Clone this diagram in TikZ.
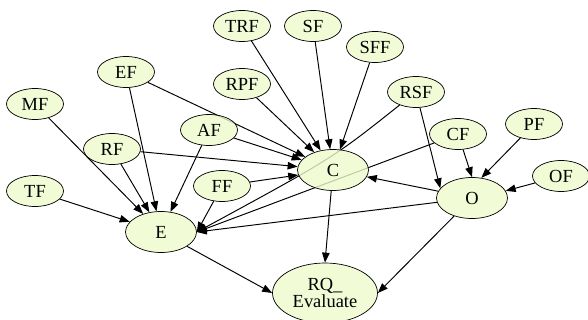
\documentclass[tikz,border=0pt]{standalone}
\usepackage{fontspec}
\setmainfont{Liberation Serif}
\usetikzlibrary{shapes.geometric, arrows.meta, backgrounds}

\definecolor{nodefill}{RGB}{238,250,204}

\tikzset{
  factor/.style={draw, ellipse, fill=nodefill, fill opacity=0.8, text opacity=1, inner sep=0pt,
    minimum width=1.14cm, minimum height=0.62cm, font=\fontsize{10.5}{11}\selectfont},
  core/.style={factor, minimum width=1.42cm, minimum height=0.82cm},
  link/.style={-{Triangle[length=0.2cm, width=0.15cm]}, line width=0.55pt}
}

\begin{document}
\begin{tikzpicture}[x=0.02cm, y=-0.02cm]
    \useasboundingbox (0,0) rectangle (588,320);

    % Factor nodes along the top
    \node[factor] (TRF) at (242,26) {TRF};
    \node[factor] (SF) at (313,26) {SF};
    \node[factor] (SFF) at (375,47) {SFF};
    \node[factor] (EF) at (126,72) {EF};
    \node[factor] (RPF) at (242,84) {RPF};
    \node[factor] (RSF) at (416,92) {RSF};
    \node[factor] (MF) at (35,104) {MF};

    % Factor nodes in the middle
    \node[factor] (CF) at (458,134) {CF};
    \node[factor] (PF) at (534,124) {PF};
    \node[factor] (AF) at (209,130) {AF};
    \node[factor] (RF) at (112,149) {RF};
    \node[factor] (FF) at (222,186) {FF};
    \node[factor] (OF) at (561,176) {OF};
    \node[factor] (TF) at (35,191) {TF};

    % Main nodes
    \node[core] (C) at (333,170) {C};
    \node[core] (O) at (472,198) {O};
    \node[core] (E) at (161,232) {E};
    \node[core, align=center, minimum width=2.1cm, minimum height=1.2cm] (RQ) at (325,293) {RQ\_\\[-1pt]Evaluate};

    \begin{pgfonlayer}{background}
      % Edges into C
      \draw[link] (TRF) -- (C);
      \draw[link] (SF) -- (C);
      \draw[link] (SFF) -- (C);
      \draw[link] (RPF) -- (C);
      \draw[link] (EF) -- (C);
      \draw[link] (AF) -- (C);
      \draw[link] (RF) -- (C);
      \draw[link] (FF) -- (C);
      \draw[link] (O) -- (C);

      % Edges into E
      \draw[link] (EF) -- (E);
      \draw[link] (MF) -- (E);
      \draw[link] (RF) -- (E);
      \draw[link] (AF) -- (E);
      \draw[link] (TF) -- (E);
      \draw[link] (FF) -- (E.east);
      \draw[link] (RSF) .. controls (333,158) .. (E.east);
      \draw[link] (CF) -- (E.east);
      \draw[link] (O) -- (E.east);

      % Edges into O
      \draw[link] (RSF) -- (O.163);
      \draw[link] (CF) -- (O.north);
      \draw[link] (PF) -- (O.65);
      \draw[link] (OF) -- (O.12);

      % Edges into RQ_Evaluate
      \draw[link] (E) -- (RQ.west);
      \draw[link] (C) -- (RQ.north);
      \draw[link] (O) -- (RQ.east);
    \end{pgfonlayer}
  \end{tikzpicture}
\end{document}
